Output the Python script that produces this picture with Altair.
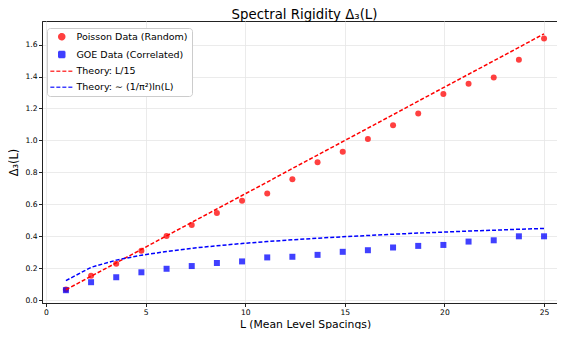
import altair as alt
import pandas as pd

L_values = [1.0, 2.263, 3.526, 4.789, 6.053, 7.316, 8.579, 9.842, 11.105, 12.368,
            13.632, 14.895, 16.158, 17.421, 18.684, 19.947, 21.211, 22.474, 23.737, 25.0]
poisson = [0.068, 0.155, 0.229, 0.310, 0.403, 0.471, 0.546, 0.624, 0.668, 0.758,
           0.864, 0.930, 1.009, 1.096, 1.168, 1.290, 1.354, 1.393, 1.505, 1.637]
goe = [0.064, 0.114, 0.145, 0.176, 0.198, 0.215, 0.234, 0.244, 0.269, 0.273,
       0.285, 0.304, 0.314, 0.331, 0.341, 0.347, 0.368, 0.376, 0.401, 0.401]
theory_poisson = [0.067, 0.151, 0.235, 0.319, 0.404, 0.488, 0.572, 0.656, 0.740, 0.825,
                  0.909, 0.993, 1.077, 1.161, 1.246, 1.330, 1.414, 1.498, 1.582, 1.667]
theory_goe = [0.124, 0.207, 0.252, 0.283, 0.306, 0.326, 0.342, 0.356, 0.368, 0.379,
              0.389, 0.398, 0.406, 0.414, 0.421, 0.427, 0.434, 0.439, 0.445, 0.450]
series_labels = ["Poisson Data (Random)", "GOE Data (Correlated)",
                 "Theory: L/15", "Theory: ∼ (1/π²)ln(L)"]
x_ticks = [0, 5, 10, 15, 20, 25]
y_ticks = [0.0, 0.2, 0.4, 0.6, 0.8, 1.0, 1.2, 1.4, 1.6]

rows = []
for name, vals in zip(series_labels, [poisson, goe, theory_poisson, theory_goe]):
    for L, v in zip(L_values, vals):
        rows.append({"L": L, "D": v, "series": name})
df = pd.DataFrame(rows)

FONT = "DejaVu Sans"
W, H = 515, 282

color_scale = alt.Scale(domain=series_labels, range=["#ff0000", "#0000ff", "#ff0000", "#0000ff"])
shape_scale = alt.Scale(domain=series_labels,
                        range=["circle", "square", "M-3.8,0H3.8", "M-3.8,0H3.8"])
dash_scale = alt.Scale(domain=series_labels, range=[[1, 0], [1, 0], [4, 2], [4, 2]])

legend = alt.Legend(
    title=None, orient="none", legendX=5, legendY=7,
    labelFont=FONT, labelFontSize=9.5, labelColor="#000",
    symbolSize=36, symbolStrokeWidth=1.5, rowPadding=4.8, padding=4,
    symbolOffset=6, labelOffset=10,
    fillColor="white", strokeColor="#cccccc", cornerRadius=3,
)

x_enc = alt.X("L:Q", scale=alt.Scale(domain=[-0.2, 25.65], nice=False, zero=False),
              axis=alt.Axis(values=x_ticks, format="d", title="L (Mean Level Spacings)",
                            titleX=263, titleY=24, titleBaseline="alphabetic",
                            titleFontSize=10.8))
y_enc = alt.Y("D:Q", scale=alt.Scale(domain=[-0.016, 1.747], nice=False, zero=False),
              axis=alt.Axis(values=y_ticks, format=".1f", title="Δ₃(L)",
                            titleX=-28, titleY=H / 2, titleBaseline="middle"))

points = alt.Chart(df).transform_filter(
    alt.FieldOneOfPredicate(field="series", oneOf=series_labels[:2])
).mark_point(filled=True, size=36, opacity=0.75).encode(
    x=x_enc, y=y_enc,
    color=alt.Color("series:N", scale=color_scale, legend=legend),
    shape=alt.Shape("series:N", scale=shape_scale, legend=legend),
)

lines = alt.Chart(df).transform_filter(
    alt.FieldOneOfPredicate(field="series", oneOf=series_labels[2:])
).mark_line(strokeWidth=1.5).encode(
    x=x_enc, y=y_enc,
    color=alt.Color("series:N", scale=color_scale, legend=legend),
    strokeDash=alt.StrokeDash("series:N", scale=dash_scale, legend=legend),
)

chart = alt.layer(points, lines).properties(
    width=W, height=H,
    title=alt.TitleParams("Spectral Rigidity Δ₃(L)", font=FONT, fontSize=13.3,
                          fontWeight="normal", color="#000", anchor="middle",
                          frame="group", offset=0, dx=5),
    autosize=alt.AutoSizeParams(type="none"),
    padding={"left": 34, "top": 13, "right": 0, "bottom": 26},
).configure_view(
    stroke="#222", strokeWidth=1
).configure_axis(
    labelFont=FONT, labelFontSize=7.6, labelColor="#000", labelPadding=1.5,
    titleFont=FONT, titleFontSize=11.4, titleFontWeight="normal", titleColor="#000",
    domainColor="#222", tickColor="#222", tickSize=3.5, domainWidth=1,
    gridColor="#e6e6e6", gridWidth=0.8,
)

chart.save("out.html", embed_options={"renderer": "svg", "actions": False})
